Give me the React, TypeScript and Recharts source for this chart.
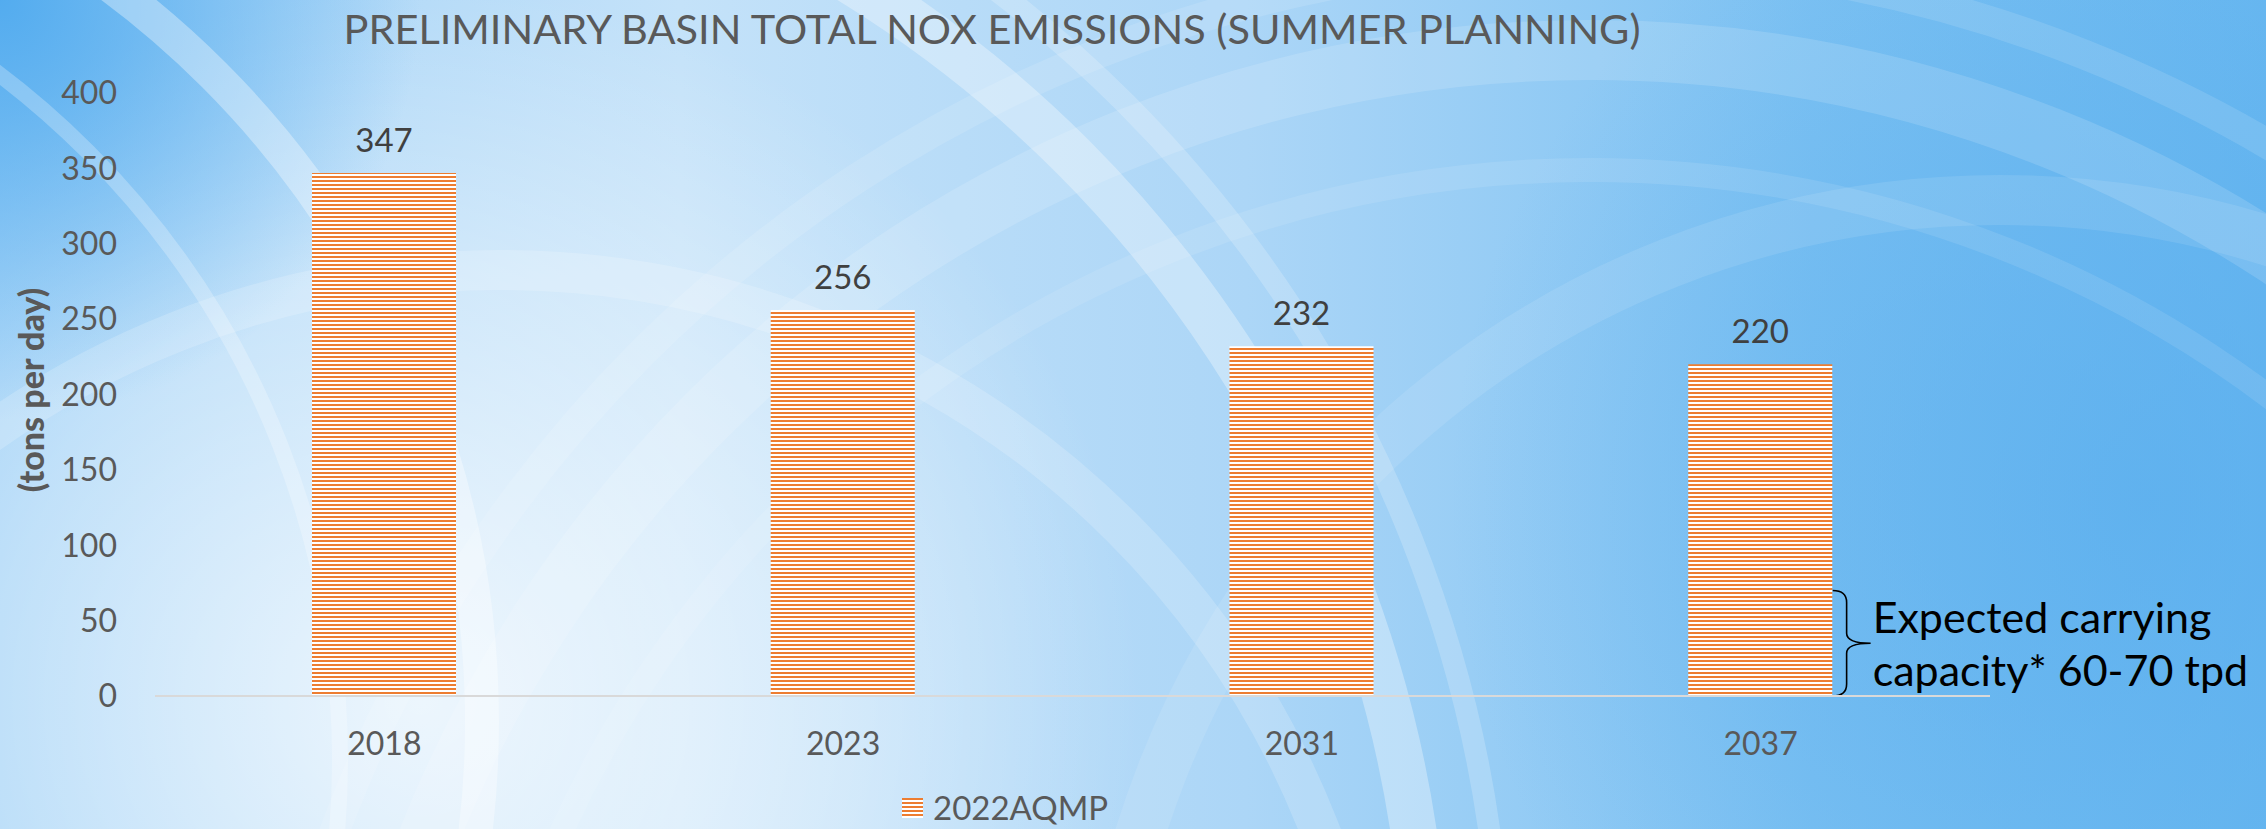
import React from "react";
import { Bar, BarChart, LabelList, Legend, ReferenceArea, XAxis, YAxis } from "recharts";

const years = ["2018", "2023", "2031", "2037"];
const noxTpd = [347, 256, 232, 220];
const yTicks = [0, 50, 100, 150, 200, 250, 300, 350, 400];
const carryingLow = 0;
const carryingHigh = 70;

const rows = years.map((year, i) => ({ year, aqmp: noxTpd[i] }));

const W = 2266;
const H = 829;
const FONT = "Lato, 'Open Sans', sans-serif";
const ORANGE = "#ED7D31";
const BAR = 144;

function Backdrop() {
  return (
    <svg width={W} height={H} style={{ position: "absolute", left: 0, top: 0 }}>
      <defs>
        <linearGradient id="bgBase" x1="0" y1="0" x2="1" y2="0">
          <stop offset="0" stopColor="#9ccff6" />
          <stop offset="0.3" stopColor="#c4e2f9" />
          <stop offset="0.55" stopColor="#acd6f7" />
          <stop offset="0.8" stopColor="#7cc1f2" />
          <stop offset="1" stopColor="#69b8f0" />
        </linearGradient>
        <radialGradient id="bgGlow" cx="420" cy="700" r="720" gradientUnits="userSpaceOnUse">
          <stop offset="0" stopColor="#ffffff" stopOpacity="0.75" />
          <stop offset="0.6" stopColor="#ffffff" stopOpacity="0.35" />
          <stop offset="1" stopColor="#ffffff" stopOpacity="0" />
        </radialGradient>
        <radialGradient id="bgCorner" cx="0" cy="0" r="420" gradientUnits="userSpaceOnUse">
          <stop offset="0" stopColor="#4ba8ee" stopOpacity="0.9" />
          <stop offset="1" stopColor="#4ba8ee" stopOpacity="0" />
        </radialGradient>
        <radialGradient id="bgRight" cx="2150" cy="500" r="700" gradientUnits="userSpaceOnUse">
          <stop offset="0" stopColor="#5aaeee" stopOpacity="0.7" />
          <stop offset="1" stopColor="#5aaeee" stopOpacity="0" />
        </radialGradient>
      </defs>
      <rect width={W} height={H} fill="url(#bgBase)" />
      <rect width={W} height={H} fill="url(#bgRight)" />
      <rect width={W} height={H} fill="url(#bgGlow)" />
      <rect width={W} height={H} fill="url(#bgCorner)" />
      <g fill="none" stroke="#ffffff">
        <circle cx={217} cy={1012} r={1210} strokeWidth={46} strokeOpacity={0.32} />
        <circle cx={217} cy={1012} r={1285} strokeWidth={22} strokeOpacity={0.2} />
        <circle cx={-433} cy={722} r={915} strokeWidth={34} strokeOpacity={0.35} />
        <circle cx={-520} cy={760} r={860} strokeWidth={16} strokeOpacity={0.25} />
        <circle cx={1590} cy={1300} r={1250} strokeWidth={60} strokeOpacity={0.14} />
        <circle cx={1590} cy={1300} r={1340} strokeWidth={30} strokeOpacity={0.12} />
        <circle cx={1590} cy={1300} r={1130} strokeWidth={24} strokeOpacity={0.1} />
        <circle cx={2000} cy={1100} r={900} strokeWidth={50} strokeOpacity={0.1} />
        <circle cx={500} cy={1150} r={880} strokeWidth={40} strokeOpacity={0.18} />
      </g>
    </svg>
  );
}

function CarryingBrace(props: any) {
  const { x, y, width, height } = props;
  if (x == null || y == null) return null;
  const left = x + width / 2 + BAR / 2;
  const mid = y + height / 2;
  const bot = y + height;
  const stem = left + 14;
  const tip = left + 38;
  const d = `M ${left} ${y} Q ${stem} ${y} ${stem} ${y + 12} L ${stem} ${mid - 10} Q ${stem} ${mid} ${tip} ${mid} Q ${stem} ${mid} ${stem} ${mid + 10} L ${stem} ${bot - 12} Q ${stem} ${bot} ${left} ${bot}`;
  return (
    <g>
      <path d={d} fill="none" stroke="#000" strokeWidth={1.6} />
      <text x={tip + 2} y={mid - 10} fill="#000" fontSize={43} fontFamily={FONT}>
        Expected carrying
      </text>
      <text x={tip + 2} y={bot - 10} fill="#000" fontSize={43} fontFamily={FONT}>
        capacity* 60-70 tpd
      </text>
    </g>
  );
}

function LegendBox() {
  return (
    <div style={{ display: "flex", alignItems: "center", fontFamily: FONT, lineHeight: 1 }}>
      <svg width={21} height={20} style={{ marginRight: 10 }}>
        <rect width={21} height={20} fill="url(#stripes)" />
      </svg>
      <span style={{ fontSize: 33, color: "#595959" }}>2022AQMP</span>
    </div>
  );
}

export default function App() {
  return (
    <div style={{ position: "absolute", left: 0, top: 0, width: W, height: H, overflow: "hidden" }}>
      <Backdrop />
      <div style={{ position: "absolute", left: 0, top: 0 }}>
        <BarChart width={W} height={H} data={rows} margin={{ top: 93, right: 276, left: 0, bottom: 43 }}>
          <defs>
            <pattern id="stripes" width={4} height={4} patternUnits="userSpaceOnUse">
              <rect width={4} height={4} fill="#ffffff" />
              <rect width={4} height={2} fill={ORANGE} />
            </pattern>
          </defs>
          <text x={992} y={44} textAnchor="middle" fill="#595959" fontSize={41.5} fontFamily={FONT}>
            PRELIMINARY BASIN TOTAL NOX EMISSIONS (SUMMER PLANNING)
          </text>
          <text
            x={30}
            y={390}
            transform="rotate(-90 30 390)"
            textAnchor="middle"
            dominantBaseline="central"
            fill="#595959"
            fontSize={34}
            fontWeight={900}
            fontFamily={FONT}
          >
            (tons per day)
          </text>
          <XAxis
            dataKey="year"
            height={90}
            tickLine={false}
            tickSize={0}
            tickMargin={36}
            axisLine={{ stroke: "#D9D9D9", strokeWidth: 2 }}
            tick={{ fill: "#595959", fontSize: 32, fontFamily: FONT }}
          />
          <YAxis
            width={155}
            domain={[0, 400]}
            ticks={yTicks}
            axisLine={false}
            tickLine={false}
            tickSize={0}
            tickMargin={38}
            tick={{ fill: "#595959", fontSize: 32, fontFamily: FONT }}
          />
          <Legend
            verticalAlign="middle"
            layout="horizontal"
            content={<LegendBox />}
            wrapperStyle={{ left: 902, top: 791, width: "auto" }}
          />
          <Bar dataKey="aqmp" name="2022AQMP" fill="url(#stripes)" barSize={BAR} isAnimationActive={false}>
            <LabelList dataKey="aqmp" position="top" offset={21} fill="#404040" fontSize={33} fontFamily={FONT} />
          </Bar>
          <ReferenceArea
            x1="2037"
            x2="2037"
            y1={carryingLow}
            y2={carryingHigh}
            shape={<CarryingBrace />}
          />
        </BarChart>
      </div>
    </div>
  );
}
